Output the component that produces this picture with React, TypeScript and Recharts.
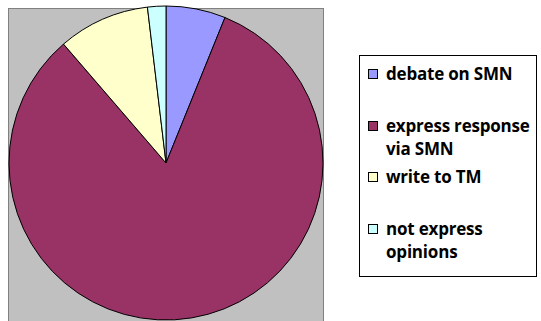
import { Legend, Pie, PieChart } from "recharts";

const categories = [
  "debate on SMN",
  "express response via SMN",
  "write to TM",
  "not express opinions",
];
const values = [13, 175, 20, 4];
const colors = ["#9999FF", "#993366", "#FFFFCC", "#CCFFFF"];

const data = categories.map((name, i) => ({
  name,
  value: values[i],
  fill: colors[i],
}));

const LegendBox = () => (
  <div
    style={{
      width: 178,
      height: 222,
      border: "1px solid #000",
      background: "#fff",
      boxSizing: "border-box",
      paddingTop: 6,
      fontFamily: "'Open Sans', sans-serif",
      fontWeight: 700,
      fontSize: 17,
      color: "#000",
    }}
  >
    {data.map((d) => (
      <div
        key={d.name}
        style={{
          height: 51.7,
          display: "flex",
          alignItems: "flex-start",
          lineHeight: "23px",
        }}
      >
        <span
          style={{
            width: 8,
            height: 8,
            background: d.fill,
            border: "1px solid #000",
            marginLeft: 8,
            marginTop: 7,
            marginRight: 8,
            flexShrink: 0,
          }}
        />
        <span style={{ width: 152, letterSpacing: -0.2 }}>{d.name}</span>
      </div>
    ))}
  </div>
);

export default function App() {
  return (
    <div
      style={{
        position: "absolute",
        left: 0,
        top: 0,
        width: 541,
        height: 321,
        background: "#fff",
        overflow: "hidden",
      }}
    >
      <div
        style={{
          position: "absolute",
          left: 8,
          top: 8,
          width: 316,
          height: 320,
          background: "#C0C0C0",
          border: "1px solid #808080",
          boxSizing: "border-box",
        }}
      />
      <div style={{ position: "absolute", left: 0, top: 0 }}>
        <PieChart
          width={541}
          height={321}
          margin={{ top: 0, right: 0, bottom: 0, left: 0 }}
        >
          <Pie
            data={data}
            dataKey="value"
            nameKey="name"
            cx={166}
            cy={163}
            outerRadius={157}
            startAngle={90}
            endAngle={-270}
            stroke="#000"
            strokeWidth={1}
            isAnimationActive={false}
          />
          <Legend
            content={<LegendBox />}
            layout="vertical"
            wrapperStyle={{ position: "absolute", left: 359, top: 55, width: 178 }}
          />
        </PieChart>
      </div>
    </div>
  );
}
